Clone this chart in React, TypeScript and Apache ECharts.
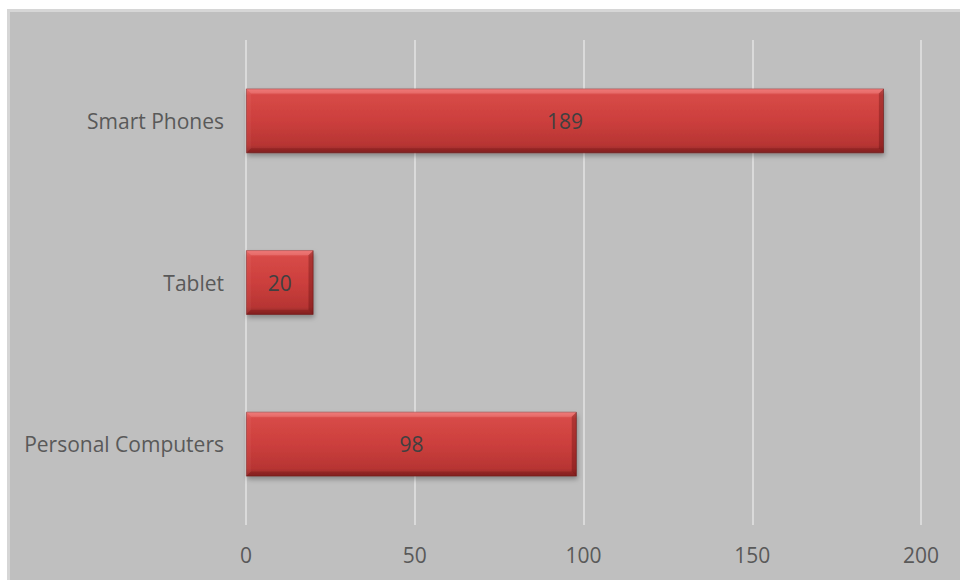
import React, { useEffect, useRef } from "react";
import * as echarts from "echarts";

const categories = ["Personal Computers", "Tablet", "Smart Phones"];
const values = [98, 20, 189];
const xTicks = [0, 50, 100, 150, 200];

export default function App() {
  const ref = useRef<HTMLDivElement>(null);
  useEffect(() => {
    if (!ref.current) return;
    const chart = echarts.init(ref.current, null, { renderer: "svg" });
    const font = "'Open Sans', 'Noto Sans', sans-serif";
    chart.setOption({
      animation: false,
      backgroundColor: "#ffffff",
      graphic: [
        {
          type: "rect",
          z: -10,
          silent: true,
          shape: { x: 8.5, y: 10.5, width: 960, height: 600 },
          style: { fill: "#bfbfbf", stroke: "#d6d6d6", lineWidth: 3 },
        },
      ],
      grid: { left: 246, right: 39, top: 40, bottom: 55 },
      xAxis: {
        type: "value",
        min: xTicks[0],
        max: xTicks[xTicks.length - 1],
        interval: 50,
        axisLine: { show: false },
        axisTick: { show: false },
        splitLine: { show: true, lineStyle: { color: "#dadada", width: 2 } },
        axisLabel: { color: "#595959", fontSize: 21, fontFamily: font, margin: 19 },
      },
      yAxis: {
        type: "category",
        data: categories,
        axisLine: { show: false },
        axisTick: { show: false },
        axisLabel: { color: "#595959", fontSize: 21, fontFamily: font, margin: 22 },
      },
      series: [
        {
          type: "bar",
          data: values,
          barWidth: "40%",
          itemStyle: {
            color: new echarts.graphic.LinearGradient(0, 0, 0, 1, [
              { offset: 0, color: "#e86a68" },
              { offset: 0.1, color: "#d74a47" },
              { offset: 0.5, color: "#cc3f3d" },
              { offset: 0.88, color: "#b73533" },
              { offset: 1, color: "#8f2827" },
            ]),
            borderColor: "rgba(110,25,25,0.6)",
            borderWidth: 0.8,
            shadowColor: "rgba(0,0,0,0.3)",
            shadowBlur: 5,
            shadowOffsetY: 3,
            shadowOffsetX: 1,
          },
          label: {
            show: true,
            position: "inside",
            color: "#404040",
            fontSize: 21,
            fontFamily: font,
          },
        },
        {
          type: "custom",
          silent: true,
          z: 3,
          data: values.map((v, i) => [v, i]),
          encode: { x: 0, y: 1 },
          renderItem: (params: any, api: any) => {
            const v = api.value(0);
            const c = api.value(1);
            const p0 = api.coord([0, c]);
            const p1 = api.coord([v, c]);
            const h = api.size([0, 1])[1] * 0.4;
            const x0 = p0[0];
            const x1 = p1[0];
            const y0 = p0[1] - h / 2;
            const y1 = p0[1] + h / 2;
            const b = 5;
            return {
              type: "group",
              children: [
                {
                  type: "polygon",
                  shape: { points: [[x0, y0], [x1, y0], [x1 - b, y0 + b], [x0 + b, y0 + b]] },
                  style: { fill: "rgba(255,160,160,0.3)" },
                },
                {
                  type: "polygon",
                  shape: { points: [[x0, y1], [x1, y1], [x1 - b, y1 - b], [x0 + b, y1 - b]] },
                  style: { fill: "rgba(70,0,0,0.18)" },
                },
                {
                  type: "polygon",
                  shape: { points: [[x1, y0], [x1, y1], [x1 - b, y1 - b], [x1 - b, y0 + b]] },
                  style: { fill: "rgba(70,0,0,0.28)" },
                },
                {
                  type: "polygon",
                  shape: { points: [[x0, y0], [x0, y1], [x0 + b, y1 - b], [x0 + b, y0 + b]] },
                  style: { fill: "rgba(255,200,200,0.05)" },
                },
              ],
            };
          },
        },
      ],
    });
    return () => chart.dispose();
  }, []);
  return (
    <div
      ref={ref}
      style={{ position: "absolute", left: 0, top: 0, width: 960, height: 580 }}
    />
  );
}
